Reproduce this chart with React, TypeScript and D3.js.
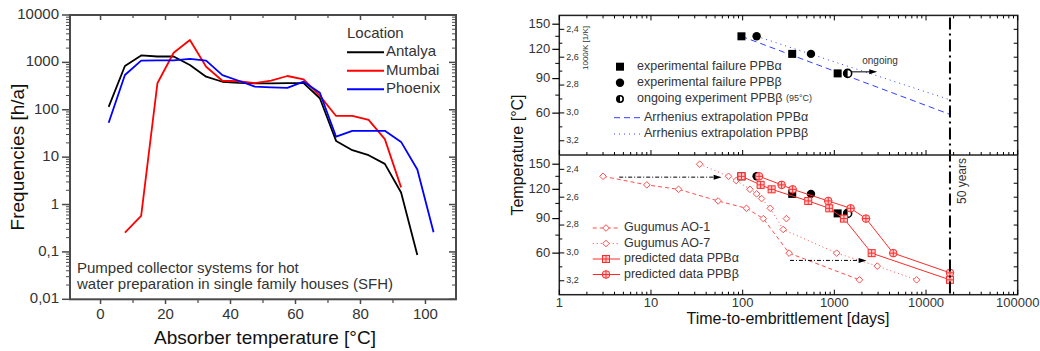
import React from 'react';
import * as d3 from 'd3';

// ---------- Left chart data ----------
const tempsL = [2.5, 7.5, 12.5, 17.5, 22.5, 27.5, 32.5, 37.5, 42.5, 47.5, 52.5, 57.5, 62.5, 67.5, 72.5, 77.5, 82.5, 87.5, 92.5, 97.5, 102.5];
const antalya = [115, 840, 1400, 1330, 1330, 880, 500, 390, 370, 360, 360, 365, 365, 175, 22, 14, 11, 7.2, 1.8, 0.086, null];
const mumbai = [null, 0.255, 0.575, 362, 1600, 2960, 810, 410, 400, 365, 410, 516, 440, 196, 74, 74, 61, 24, 2.3, null, null];
const phoenix = [53, 542, 1090, 1100, 1100, 1180, 1090, 540, 410, 307, 298, 290, 392, 229, 27, 36, 36, 36, 21, 5.5, 0.26];
const locNames = ['Antalya', 'Mumbai', 'Phoenix'];
const locColors = ['#000000', '#ff0000', '#0000ff'];
const yTicksL = [10000, 1000, 100, 10, 1, 0.1, 0.01];
const yTickLabelsL = ['10000', '1000', '100', '10', '1', '0,1', '0,01'];
const xTicksL = [0, 20, 40, 60, 80, 100];
const xMinorL = [10, 30, 50, 70, 90];

// ---------- Right chart data ----------
const expAlphaDays = [97, 347, 1087];
const expAlphaT = [135, 115, 95];
const expBetaDays = [142, 556];
const expBetaT = [135, 115];
const ongoingDays = [1397];
const ongoingT = [95];
const arrAlphaDays = [97, 18250];
const arrAlphaT = [135, 59];
const arrBetaDays = [142, 18250];
const arrBetaT = [135, 71];
const ao1Days = [3, 9, 20, 54, 110, 168, 321, 1880];
const ao1T = [135, 125, 120, 107.5, 100, 90, 60, 40];
const ao7Days = [34, 70, 85, 120, 142, 161, 200, 277, 1060, 2940, 7900];
const ao7T = [150, 135, 130, 120, 115, 110, 100, 80, 60, 50, 40];
const ao7ExtraDays = [300];
const ao7ExtraT = [90];
const predAlphaDays = [97, 157, 207, 519, 880, 1273, 2553, 18250];
const predAlphaT = [135, 125, 120, 107.5, 100, 90, 60, 40];
const predBetaDays = [151, 266, 351, 858, 1506, 2213, 4390, 18250];
const predBetaT = [135, 125, 120, 107.5, 100, 90, 60, 45];
const fiftyYears = 18250;
const tempTicks = [150, 120, 90, 60];
const tempMinor = [135, 105, 75];
const invTicks = [2.4, 2.6, 2.8, 3.0, 3.2];
const invTickLabels = ['2,4', '2,6', '2,8', '3,0', '3,2'];
const invMinor = [2.5, 2.7, 2.9, 3.1];
const xTicksR = [1, 10, 100, 1000, 10000, 100000];
const xTickLabelsR = ['1', '10', '100', '1000', '10000', '100000'];

const FONT = '"Liberation Sans", Arial, sans-serif';
const RED = '#ff2a2a';
const LRED = '#ff4d4d';

function inv(T: number) { return 1000 / (T + 273.15); }

export default function App() {
  // left scales
  const xL = d3.scaleLinear().domain([-9.4, 109.4]).range([70, 456]);
  const yL = d3.scaleLog().domain([0.01, 10000]).range([299.3, 15]);
  const lineL = d3.line<[number, number | null]>()
    .defined(d => d[1] != null)
    .x(d => xL(d[0]))
    .y(d => yL(d[1] as number));
  const seriesL = [antalya, mumbai, phoenix].map(vals => tempsL.map((t, i) => [t, vals[i]] as [number, number | null]));
  const minorLogL: number[] = [];
  for (let e = -2; e < 4; e++) for (let m = 2; m <= 9; m++) minorLogL.push(m * Math.pow(10, e));

  // right scales
  const xR = d3.scaleLog().domain([1, 100000]).range([559.3, 1017.7]);
  const yTopInv = d3.scaleLinear().domain([2.3, 3.3]).range([15.4, 154.7]);
  const yBotInv = d3.scaleLinear().domain([2.3, 3.3]).range([155.4, 294.7]);
  const yTop = (T: number) => yTopInv(inv(T));
  const yBot = (T: number) => yBotInv(inv(T));
  const minorLogR: number[] = [];
  for (let e = 0; e < 5; e++) for (let m = 2; m <= 9; m++) minorLogR.push(m * Math.pow(10, e));
  const L = 559.3, R = 1017.7, T0 = 15.4, MID = 155, B = 294.7;

  const mkLine = (days: number[], temps: number[], yf: (t: number) => number) =>
    d3.line<number>().x((_, i) => xR(days[i])).y((_, i) => yf(temps[i]))(days) || '';

  const Square = (x: number, y: number, s = 8, k?: string) => <rect key={k} x={x - s / 2} y={y - s / 2} width={s} height={s} fill="#000" />;
  const Dot = (x: number, y: number, r = 4.2, k?: string) => <circle key={k} cx={x} cy={y} r={r} fill="#000" />;
  const Half = (x: number, y: number, r = 4.2, k?: string) => (
    <g key={k}>
      <circle cx={x} cy={y} r={r} fill="#fff" stroke="#000" strokeWidth={1.6} />
      <path d={`M${x},${y - r} A${r},${r} 0 0,0 ${x},${y + r} Z`} fill="#000" />
    </g>
  );
  const Diamond = (x: number, y: number, k?: string) => (
    <path key={k} d={`M${x},${y - 3.3} L${x + 3.3},${y} L${x},${y + 3.3} L${x - 3.3},${y} Z`} fill="#fff" stroke={LRED} strokeWidth={1} />
  );
  const SqCross = (x: number, y: number, k?: string) => (
    <g key={k} stroke={RED} strokeWidth={1}>
      <rect x={x - 3.5} y={y - 3.5} width={7} height={7} fill="#ffd0d0" />
      <line x1={x - 3.5} x2={x + 3.5} y1={y} y2={y} />
      <line x1={x} x2={x} y1={y - 3.5} y2={y + 3.5} />
    </g>
  );
  const CircCross = (x: number, y: number, k?: string) => (
    <g key={k} stroke={RED} strokeWidth={1}>
      <circle cx={x} cy={y} r={3.8} fill="#ffd0d0" />
      <line x1={x - 3.8} x2={x + 3.8} y1={y} y2={y} />
      <line x1={x} x2={x} y1={y - 3.8} y2={y + 3.8} />
    </g>
  );
  const Arrow = (d1: number, d2: number, y: number, dash: string, k: string) => {
    const x1 = xR(d1), x2 = xR(d2);
    return (
      <g key={k}>
        <line x1={x1} x2={x2 - 6} y1={y} y2={y} stroke="#000" strokeWidth={1} strokeDasharray={dash} />
        <path d={`M${x2},${y} L${x2 - 8},${y - 2.5} L${x2 - 8},${y + 2.5} Z`} fill="#000" />
      </g>
    );
  };

  const leftAxis = (yInv: d3.ScaleLinear<number, number>, keyp: string) => (
    <g key={keyp}>
      {tempTicks.map(t => (
        <g key={'t' + t}>
          <line x1={L - 7} x2={L} y1={yInv(inv(t))} y2={yInv(inv(t))} stroke="#000" strokeWidth={1.2} />
          <text x={L - 9} y={yInv(inv(t))} fontSize={13} textAnchor="end" dominantBaseline="middle" fill="#333">{t}</text>
        </g>
      ))}
      {tempMinor.map(t => (
        <line key={'m' + t} x1={L - 4} x2={L} y1={yInv(inv(t))} y2={yInv(inv(t))} stroke="#000" strokeWidth={1} />
      ))}
      {invTicks.map((v, i) => (
        <g key={'i' + v}>
          <line x1={L} x2={L + 5} y1={yInv(v)} y2={yInv(v)} stroke="#000" strokeWidth={1} />
          <text x={L + 7} y={yInv(v)} fontSize={9} dominantBaseline="middle" fill="#333">{invTickLabels[i]}</text>
        </g>
      ))}
      {invMinor.map(v => (
        <line key={'im' + v} x1={L} x2={L + 3} y1={yInv(v)} y2={yInv(v)} stroke="#000" strokeWidth={1} />
      ))}
      {[...invTicks, ...invMinor].map(v => (
        <line key={'r' + v} x1={R - 4} x2={R} y1={yInv(v)} y2={yInv(v)} stroke="#000" strokeWidth={1} />
      ))}
    </g>
  );

  const xTickRow = (y: number, dir: number, keyp: string) => (
    <g key={keyp}>
      {xTicksR.map(v => <line key={'M' + v} x1={xR(v)} x2={xR(v)} y1={y} y2={y + dir * 5} stroke="#000" strokeWidth={1} />)}
      {minorLogR.map(v => <line key={'m' + v} x1={xR(v)} x2={xR(v)} y1={y} y2={y + dir * 3} stroke="#000" strokeWidth={1} />)}
    </g>
  );

  return (
    <svg width={1040} height={351} style={{ position: 'absolute', left: 0, top: 0, background: '#fff' }} fontFamily={FONT}>
      <rect x={0} y={0} width={1040} height={351} fill="#fff" />
      {/* ================= LEFT CHART ================= */}
      <g>
        {seriesL.map((s, i) => (
          <path key={i} d={lineL(s) || ''} fill="none" stroke={locColors[i]} strokeWidth={1.8} strokeLinejoin="round" />
        ))}
        <rect x={70} y={15} width={386} height={284.3} fill="none" stroke="#4a4a4a" strokeWidth={2} />
        {yTicksL.map((v, i) => (
          <g key={'yl' + v}>
            <line x1={62} x2={70} y1={yL(v)} y2={yL(v)} stroke="#4a4a4a" strokeWidth={1.5} />
            <line x1={456} x2={449} y1={yL(v)} y2={yL(v)} stroke="#4a4a4a" strokeWidth={1.5} />
            <text x={59} y={yL(v)} fontSize={15} textAnchor="end" dominantBaseline="middle" fill="#333">{yTickLabelsL[i]}</text>
          </g>
        ))}
        {minorLogL.map(v => (
          <g key={'ylm' + v}>
            <line x1={66} x2={70} y1={yL(v)} y2={yL(v)} stroke="#4a4a4a" strokeWidth={1} />
            <line x1={456} x2={452} y1={yL(v)} y2={yL(v)} stroke="#4a4a4a" strokeWidth={1} />
          </g>
        ))}
        {xTicksL.map(v => (
          <g key={'xl' + v}>
            <line x1={xL(v)} x2={xL(v)} y1={299.3} y2={304} stroke="#4a4a4a" strokeWidth={1.5} />
            <line x1={xL(v)} x2={xL(v)} y1={15} y2={20} stroke="#4a4a4a" strokeWidth={1.5} />
            <text x={xL(v)} y={319} fontSize={15} textAnchor="middle" fill="#333">{v}</text>
          </g>
        ))}
        {xMinorL.map(v => (
          <g key={'xlm' + v}>
            <line x1={xL(v)} x2={xL(v)} y1={299.3} y2={303} stroke="#4a4a4a" strokeWidth={1.2} />
            <line x1={xL(v)} x2={xL(v)} y1={15} y2={18} stroke="#4a4a4a" strokeWidth={1.2} />
          </g>
        ))}
        <text x={265} y={344} fontSize={19} textAnchor="middle" fill="#111">Absorber temperature [°C]</text>
        <text transform="translate(24,157) rotate(-90)" fontSize={19} textAnchor="middle" fill="#111">Frequencies [h/a]</text>
        <text x={347} y={38} fontSize={15} fill="#333">Location</text>
        {locNames.map((n, i) => (
          <g key={n}>
            <line x1={347} x2={384} y1={52.3 + i * 18.5} y2={52.3 + i * 18.5} stroke={locColors[i]} strokeWidth={2} />
            <text x={386} y={52.3 + i * 18.5} fontSize={15} dominantBaseline="middle" fill="#333">{n}</text>
          </g>
        ))}
        <text x={77} y={272.7} fontSize={15} fill="#333">Pumped collector systems for hot</text>
        <text x={77} y={289} fontSize={15} fill="#333">water preparation in single family houses (SFH)</text>
      </g>

      {/* ================= RIGHT CHART ================= */}
      <g>
        {/* top panel */}
        <path d={mkLine(arrAlphaDays, arrAlphaT, yTop)} fill="none" stroke="#3340ff" strokeWidth={1} strokeDasharray="6,4" />
        <path d={mkLine(arrBetaDays, arrBetaT, yTop)} fill="none" stroke="#3340ff" strokeWidth={1} strokeDasharray="1,4" />
        {expAlphaDays.map((d, i) => Square(xR(d), yTop(expAlphaT[i]), 8, 'ta' + i))}
        {expBetaDays.map((d, i) => Dot(xR(d), yTop(expBetaT[i]), 4.2, 'tb' + i))}
        {ongoingDays.map((d, i) => Half(xR(d), yTop(ongoingT[i]), 4, 'to' + i))}
        {Arrow(1544, 2937, yTop(96.5), '', 'ongarrow')}
        <text x={880} y={64} fontSize={10} textAnchor="middle" fill="#333">ongoing</text>
        {/* top legend */}
        {Square(620, 66.7, 8, 'lg1')}
        <text x={637} y={66.7} fontSize={12.5} dominantBaseline="middle" fill="#333">experimental failure PPBα</text>
        {Dot(620, 82.7, 4.2, 'lg2')}
        <text x={637} y={82.7} fontSize={12.5} dominantBaseline="middle" fill="#333">experimental failure PPBβ</text>
        {Half(620, 99, 3.2, 'lg3')}
        <text x={637} y={99} fontSize={12.5} dominantBaseline="middle" fill="#333">ongoing experiment PPBβ <tspan fontSize={9}>(95°C)</tspan></text>
        <line x1={614} x2={642} y1={117.7} y2={117.7} stroke="#3340ff" strokeWidth={1} strokeDasharray="6,4" />
        <text x={644} y={117.7} fontSize={12.5} dominantBaseline="middle" fill="#333">Arrhenius extrapolation PPBα</text>
        <line x1={614} x2={642} y1={134} y2={134} stroke="#3340ff" strokeWidth={1} strokeDasharray="1,4" />
        <text x={644} y={134} fontSize={12.5} dominantBaseline="middle" fill="#333">Arrhenius extrapolation PPBβ</text>
        <text transform="translate(588,48) rotate(-90)" fontSize={8} textAnchor="middle" fill="#333">1000/K [1/K]</text>

        {/* bottom panel */}
        <path d={mkLine(ao1Days, ao1T, yBot)} fill="none" stroke={LRED} strokeWidth={1} strokeDasharray="4,3" />
        <path d={mkLine(ao7Days, ao7T, yBot)} fill="none" stroke={LRED} strokeWidth={1} strokeDasharray="1,3" />
        {ao1Days.map((d, i) => Diamond(xR(d), yBot(ao1T[i]), 'a1' + i))}
        {ao7Days.map((d, i) => Diamond(xR(d), yBot(ao7T[i]), 'a7' + i))}
        {ao7ExtraDays.map((d, i) => Diamond(xR(d), yBot(ao7ExtraT[i]), 'a7x' + i))}
        {expAlphaDays.map((d, i) => Square(xR(d), yBot(expAlphaT[i]), 8, 'ba' + i))}
        {expBetaDays.map((d, i) => Dot(xR(d), yBot(expBetaT[i]), 4.2, 'bb' + i))}
        {ongoingDays.map((d, i) => Half(xR(d), yBot(ongoingT[i]), 4, 'bo' + i))}
        <path d={mkLine(predAlphaDays, predAlphaT, yBot)} fill="none" stroke={RED} strokeWidth={1} />
        <path d={mkLine(predBetaDays, predBetaT, yBot)} fill="none" stroke={RED} strokeWidth={1} />
        {predAlphaDays.map((d, i) => SqCross(xR(d), yBot(predAlphaT[i]), 'pa' + i))}
        {predBetaDays.map((d, i) => CircCross(xR(d), yBot(predBetaT[i]), 'pb' + i))}
        {Arrow(4.5, 59, yBot(134), '4,2,1,2', 'arr1')}
        {Arrow(328, 2250, yBot(54.3), '4,2,1,2', 'arr2')}
        {/* bottom legend */}
        <line x1={592.7} x2={620} y1={228} y2={228} stroke={LRED} strokeWidth={1} strokeDasharray="4,3" />
        {Diamond(606, 228, 'l1')}
        <text x={624} y={228} fontSize={12.5} dominantBaseline="middle" fill="#333">Gugumus AO-1</text>
        <line x1={592.7} x2={620} y1={243.5} y2={243.5} stroke={LRED} strokeWidth={1} strokeDasharray="1,3" />
        {Diamond(606, 243.5, 'l2')}
        <text x={624} y={243.5} fontSize={12.5} dominantBaseline="middle" fill="#333">Gugumus AO-7</text>
        <line x1={592.7} x2={620} y1={259} y2={259} stroke={RED} strokeWidth={1} />
        {SqCross(606, 259, 'l3')}
        <text x={624} y={259} fontSize={12.5} dominantBaseline="middle" fill="#333">predicted data PPBα</text>
        <line x1={592.7} x2={620} y1={274.5} y2={274.5} stroke={RED} strokeWidth={1} />
        {CircCross(606, 274.5, 'l4')}
        <text x={624} y={274.5} fontSize={12.5} dominantBaseline="middle" fill="#333">predicted data PPBβ</text>

        {/* 50 years line */}
        <line x1={xR(fiftyYears)} x2={xR(fiftyYears)} y1={T0 + 2} y2={B} stroke="#000" strokeWidth={2} strokeDasharray="12,4,2,4" />
        <text transform={`translate(${xR(fiftyYears) + 16},181) rotate(-90)`} fontSize={12} textAnchor="middle" fill="#333">50 years</text>

        {/* frames and axes */}
        <rect x={L} y={T0} width={R - L} height={B - T0} fill="none" stroke="#222" strokeWidth={1.5} />
        <line x1={L} x2={R} y1={MID} y2={MID} stroke="#222" strokeWidth={1.5} />
        {xTickRow(T0, 1, 'xt1')}
        {xTickRow(MID, -1, 'xt2')}
        {xTickRow(B, -1, 'xt3')}
        {leftAxis(yTopInv, 'lat')}
        {leftAxis(yBotInv, 'lab')}
        {xTicksR.map((v, i) => (
          <text key={'xr' + v} x={xR(v)} y={307} fontSize={13} textAnchor="middle" fill="#333">{xTickLabelsR[i]}</text>
        ))}
        <text x={788} y={324} fontSize={16} textAnchor="middle" fill="#111">Time-to-embrittlement [days]</text>
        <text transform="translate(523,155) rotate(-90)" fontSize={16} textAnchor="middle" fill="#111">Temperature [°C]</text>
      </g>
    </svg>
  );
}
